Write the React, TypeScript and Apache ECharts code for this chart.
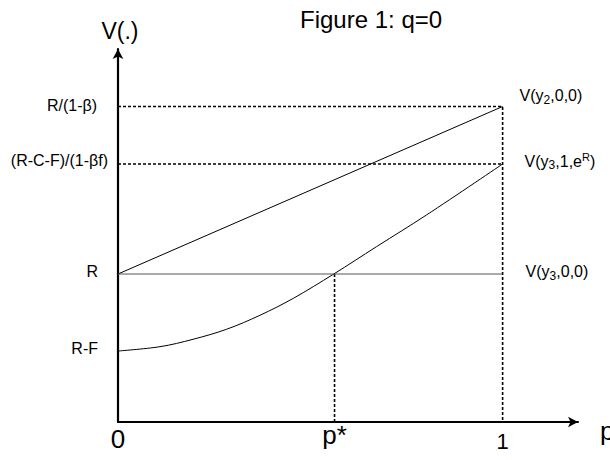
import React, { useEffect, useRef } from "react";
import * as echarts from "echarts";

// ---- data ----
const pStar = 0.563;
const xTickValues = [0, pStar, 1];
const xTickLabels = ["0", "p*", "1"];
const R = 1.48;
const RF = 0.71;
const RCF = 2.58;
const RB = 3.155;
const yTickValues = [RF, R, RCF, RB];
const yTickLabels = ["R-F", "R", "(R-C-F)/(1-βf)", "R/(1-β)"];
const upperX = [0, 1];
const upperY = [R, RB];
const flatX = [0, 1];
const flatY = [R, R];
const curveX = [0, 0.109, 0.195, 0.282, 0.369, 0.456, 0.561, 0.672, 0.802, 1];
const curveY = [0.71, 0.753, 0.827, 0.927, 1.067, 1.237, 1.48, 1.753, 2.07, 2.58];

const FONT = "'Liberation Sans', Arial, sans-serif";

const zip = (xs: number[], ys: number[]) => xs.map((x, i) => [x, ys[i]]);

const richEnd = {
  n: { fontSize: 16, fontFamily: FONT, color: "#000", lineHeight: 20 },
  s: { fontSize: 12, fontFamily: FONT, color: "#000", verticalAlign: "bottom", lineHeight: 12, padding: [7, 0, 0, 0] },
  u: { fontSize: 11, fontFamily: FONT, color: "#000", verticalAlign: "top", lineHeight: 12, padding: [0, 0, 5, 0] },
};

function App() {
  const ref = useRef<HTMLDivElement>(null);
  useEffect(() => {
    if (!ref.current) return;
    const chart = echarts.init(ref.current, undefined, { renderer: "svg" });
    const solid = { color: "#000", width: 1 };
    const dashed = { color: "#000", width: 1.6, type: [3, 2] as any };
    chart.setOption({
      animation: false,
      backgroundColor: "#fff",
      title: {
        text: "Figure 1: q=0",
        left: 300,
        top: 7,
        padding: 0,
        textStyle: { fontSize: 24, fontWeight: "normal", fontFamily: FONT, color: "#000", lineHeight: 24 },
      },
      grid: { left: 118, right: 32, top: 49, bottom: 38, containLabel: false, outerBoundsMode: "none" },
      xAxis: {
        type: "value",
        min: 0,
        max: 1.196,
        splitLine: { show: false },
        axisTick: { show: false },
        axisLine: {
          lineStyle: { color: "#000", width: 2.2 },
          symbol: ["none", "arrow"],
          symbolSize: [8, 10],
        },
        name: "p",
        nameLocation: "end",
        nameGap: 22,
        nameMoveOverlap: false,
        nameTextStyle: { fontSize: 26, lineHeight: 18, fontFamily: FONT, color: "#000", verticalAlign: "top", align: "left" },
        axisLabel: {
          customValues: xTickValues,
          margin: 0,
          formatter: (v: number) => {
            const i = xTickValues.findIndex((t) => Math.abs(t - v) < 1e-6);
            const key = ["a", "b", "c"][i] || "a";
            return `{${key}|${xTickLabels[i] ?? ""}}`;
          },
          rich: {
            a: { fontSize: 26, lineHeight: 26, fontFamily: FONT, color: "#000", padding: [7, 0, 0, 0] },
            b: { fontSize: 26, lineHeight: 26, fontFamily: FONT, color: "#000", padding: [0, 0, 0, 0] },
            c: { fontSize: 22, lineHeight: 22, fontFamily: FONT, color: "#000", padding: [16, 0, 0, 0] },
          },
        },
      },
      yAxis: {
        type: "value",
        min: 0,
        max: 3.73,
        splitLine: { show: false },
        axisTick: { show: false },
        axisLine: {
          lineStyle: { color: "#000", width: 2.2 },
          symbol: ["none", "arrow"],
          symbolSize: [8, 10],
        },
        name: "V(.)",
        nameLocation: "end",
        nameGap: 7,
        nameMoveOverlap: false,
        nameTextStyle: { fontSize: 23, lineHeight: 23, fontFamily: FONT, color: "#000", align: "center", padding: [0, 0, 0, 4] },
        axisLabel: {
          customValues: yTickValues,
          margin: 10,
          formatter: (v: number) => {
            const i = yTickValues.findIndex((t) => Math.abs(t - v) < 1e-6);
            const key = i === 2 ? "w" : i === 3 ? "t" : "n";
            return `{${key}|${yTickLabels[i] ?? ""}}`;
          },
          rich: {
            n: { fontSize: 16, lineHeight: 16, fontFamily: FONT, color: "#000", padding: [0, 10, 6, 0] },
            t: { fontSize: 16, lineHeight: 16, fontFamily: FONT, color: "#000", padding: [0, 11, 3, 0] },
            w: { fontSize: 16, lineHeight: 16, fontFamily: FONT, color: "#000", padding: [0, 0, 8, 0] },
          },
        },
      },
      series: [
        {
          type: "line",
          data: zip([0, 1, 1], [RB, RB, 0]),
          showSymbol: false,
          lineStyle: dashed,
          z: 1,
        },
        {
          type: "line",
          data: zip([0, 1], [RCF, RCF]),
          showSymbol: false,
          lineStyle: dashed,
          z: 1,
        },
        {
          type: "line",
          data: zip([pStar, pStar], [R, 0]),
          showSymbol: false,
          lineStyle: dashed,
          z: 1,
        },
        {
          type: "line",
          data: zip(upperX, upperY),
          showSymbol: false,
          lineStyle: solid,
          endLabel: {
            show: true,
            offset: [9, -11],
            formatter: "{n|V(y}{s|2}{n|,0,0)}",
            rich: richEnd,
          },
          z: 2,
        },
        {
          type: "line",
          data: zip(curveX, curveY),
          smooth: 0.35,
          showSymbol: false,
          lineStyle: solid,
          endLabel: {
            show: true,
            offset: [14, -3],
            formatter: "{n|V(y}{s|3}{n|,1,e}{u|R}{n|)}",
            rich: richEnd,
          },
          z: 2,
        },
        {
          type: "line",
          data: zip(flatX, flatY),
          showSymbol: false,
          lineStyle: { color: "#555", width: 1 },
          endLabel: {
            show: true,
            offset: [15, -2.5],
            formatter: "{n|V(y}{s|3}{n|,0,0)}",
            rich: richEnd,
          },
          z: 2,
        },
      ],
    });
    return () => chart.dispose();
  }, []);
  return (
    <div
      ref={ref}
      style={{ position: "fixed", left: 0, top: 0, width: 610, height: 460, background: "#fff" }}
    />
  );
}

export default App;
